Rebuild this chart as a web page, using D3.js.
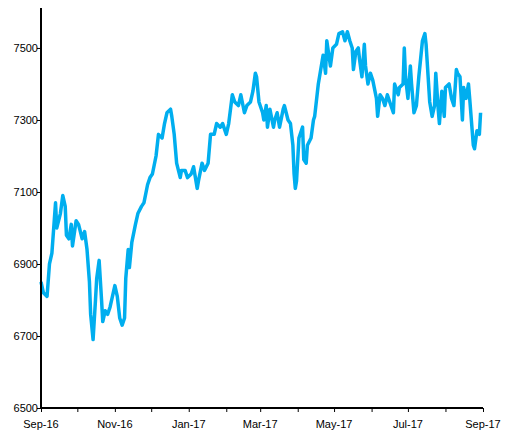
<!DOCTYPE html>
<html>
<head>
<meta charset="utf-8">
<script src="https://cdn.jsdelivr.net/npm/d3@7"></script>
<style>
body { margin: 0; background: #fff; }
text { font-family: "Liberation Sans", Arial, sans-serif; font-size: 11px; fill: #000; }
</style>
</head>
<body>
<script>
// day offsets from 1 Sep 2016 and index level
var days = [0,2,5,7,10,12,14,16,19,21,22,24,26,29,31,36,39,40,41,43,45,46,48,50,51,53,55,57,59,60,62,64,66,67,69,71,74,76,79,81,84,86,89,91,93,96,98,100,102,104,106,107,109,111,114,116,119,121,124,126,129,131,134,136,139,141,144,146,149,151,154,156,157,159,162,164,166,167,169,172,173,176,178,180,182,185,187,189,190,191,192,194,196,198,200,202,203,205,208,210,211,213,215,218,220,223,225,228,230,232,233,235,237,238,240,241,243,245,247,249,251,252,254,256,259,261,262,264,266,269,271,273,275,276,277,279,280,282,283,286,288,289,292,294,295,297,299,300,302,304,305,307,309,312,314,316,318,319,320,322,324,326,327,330,331,334,336,337,339,341].slice(0);
var values = [6850,6820,6810,6900,6930,7070,7000,7040,7090,7060,6980,6970,7010,6950,7020,7010,6970,6990,6940,6850,6760,6690,6800,6860,6910,6800,6740,6770,6760,6780,6810,6840,6810,6750,6730,6750,6860,6940,6890,6960,7010,7040,7060,7070,7120,7140,7150,7200,7260,7250,7290,7320,7330,7310,7260,7180,7140,7160,7160,7140,7150,7170,7110,7130,7180,7160,7180,7260,7260,7290,7280,7290,7260,7290,7370,7350,7340,7370,7320,7340,7350,7380,7430,7420,7350,7320,7300,7340,7280,7330,7280,7300,7320,7280,7330,7340,7300,7290,7230,7150,7110,7130,7250,7280,7190,7180,7230,7250,7300,7310,7400,7440,7480,7430,7520,7450,7500,7510,7540,7545,7520,7545,7520,7500,7440,7490,7500,7470,7420,7510,7450,7400,7430,7410,7360,7310,7370,7360,7340,7370,7350,7320,7400,7370,7390,7400,7500,7420,7360,7450,7400,7320,7340,7420,7520,7540,7510,7350,7310,7340,7430,7330,7290,7380,7310,7390,7400,7360,7340,7440,7430,7420,7300,7390,7360,7400,7360,7230,7220,7270,7260,7320];
var yTicks = [6500,6700,6900,7100,7300,7500];
var xTickLabels = ["Sep-16","Nov-16","Jan-17","Mar-17","May-17","Jul-17","Sep-17"];

// x pixel positions were read, convert to days
var xpix = [41,44,47,49,52,55,57,60,63,65,67,69,71,73,76,79,82,84,87,89,91,93,95,97,99,101,103,105,107,110,113,115,117,120,122,124,126,128,130,132,135,138,141,144,147,150,153,156,159,162,164,167,170,172,174,177,180,182,185,188,191,194,197,199,202,205,208,211,214,217,220,223,226,229,232,235,238,241,244,247,250,253,255,257,259,262,264,266,268,270,273,275,277,280,283,285,288,291,293,294,295,297,299,302,304,306,308,311,313,315,318,321,323,325,327,330,333,336,339,342,345,347,350,352,354,356,358,360,362,364,366,368,370,373,376,378,380,383,385,387,390,393,395,398,400,403,404,406,408,410,412,414,417,419,422,425,426,430,432,434,436,438,440,442,444,446,449,452,454,456,458,460,462,464,466,469,470,473,475,477,479,481];
var start = new Date(2016, 8, 1), end = new Date(2017, 8, 1);
var data = values.map(function(v, i) {
  return { date: d3.timeDay.offset(start, Math.round((xpix[i] - 41) / 442 * 365)), value: v };
});

var svg = d3.select("body").append("svg").attr("width", 512).attr("height", 440);
var x = d3.scaleTime().domain([start, end]).range([41, 483]);
var y = d3.scaleLinear().domain([6500, 7611]).range([408, 8]);

var line = d3.line().x(function(d) { return x(d.date); }).y(function(d) { return y(d.value); });
svg.append("path").datum(data).attr("d", line)
  .attr("fill", "none").attr("stroke", "#00aeef").attr("stroke-width", 3.5).attr("stroke-linejoin", "round");

var ya = svg.append("g").attr("transform", "translate(41,0)")
  .call(d3.axisLeft(y).tickValues(yTicks).tickSize(4).tickFormat(d3.format("d")));
ya.select(".domain").attr("d", "M0,8V408").attr("stroke-width", 2);
ya.selectAll("text").attr("x", -3).attr("dy", "0.35em").style("font-size", "11px");

var xa = svg.append("g").attr("transform", "translate(0,408)")
  .call(d3.axisBottom(x).ticks(d3.timeMonth.every(1)).tickSize(4).tickFormat(""));
xa.select(".domain").attr("d", "M41,0H483").attr("stroke-width", 2);
svg.selectAll(".xl").data(xTickLabels).enter().append("text")
  .attr("class", "xl").attr("text-anchor", "middle")
  .attr("x", function(d, i) { return x(d3.timeMonth.offset(start, i * 2)); })
  .attr("y", 428).text(function(d) { return d; });
</script>
</body>
</html>
